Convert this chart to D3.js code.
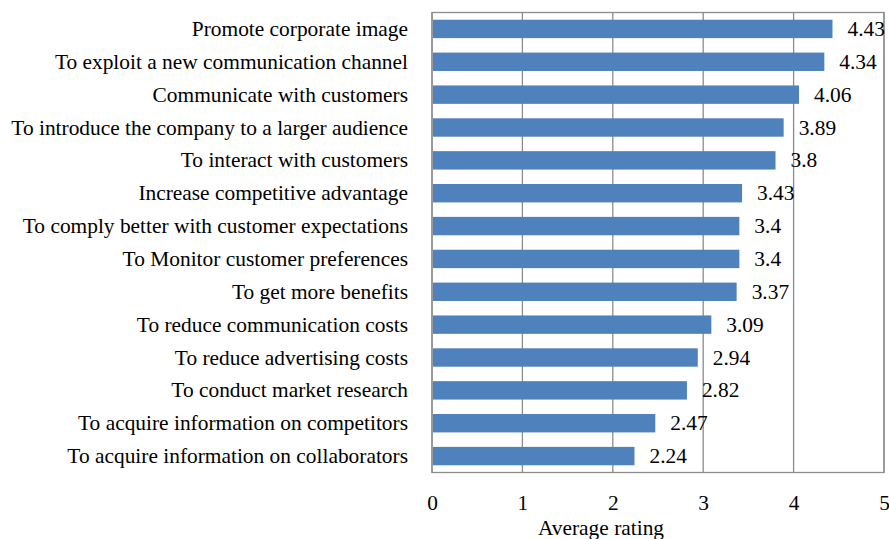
<!DOCTYPE html>
<html>
<head>
<meta charset="utf-8">
<script src="https://cdn.jsdelivr.net/npm/d3@7"></script>
<style>
  body { margin: 0; background: #fff; }
  svg text { font-family: "Liberation Serif", "Times New Roman", serif; fill: #000; }
</style>
</head>
<body>
<div id="chart"></div>
<script>
// categories from top to bottom
const categories = [
  "Promote corporate image",
  "To exploit a new communication channel",
  "Communicate with customers",
  "To introduce the company to a larger audience",
  "To interact with customers",
  "Increase competitive advantage",
  "To comply better with customer expectations",
  "To Monitor customer preferences",
  "To get more benefits",
  "To reduce communication costs",
  "To reduce advertising costs",
  "To conduct market research",
  "To acquire information on competitors",
  "To acquire information on collaborators"
];
const ratings = [4.43, 4.34, 4.06, 3.89, 3.8, 3.43, 3.4, 3.4, 3.37, 3.09, 2.94, 2.82, 2.47, 2.24];
const ratingLabels = ["4.43", "4.34", "4.06", "3.89", "3.8", "3.43", "3.4", "3.4", "3.37", "3.09", "2.94", "2.82", "2.47", "2.24"];
const xTicks = [0, 1, 2, 3, 4, 5];
const xTitle = "Average rating";

const width = 889, height = 539;
const margin = { top: 12.5, right: 5, bottom: 66.5, left: 432 };
const plotW = width - margin.left - margin.right;
const plotH = height - margin.top - margin.bottom;
const fontSize = 21.4;

const svg = d3.select('#chart').append('svg')
  .attr('width', width)
  .attr('height', height);

const g = svg.append('g').attr('transform', `translate(${margin.left},${margin.top})`);

const x = d3.scaleLinear().domain([0, 5]).range([0, plotW]);
const y = d3.scaleBand().domain(categories).range([0, plotH]).paddingInner(0.44).paddingOuter(0.22);

// gridlines
g.append('g')
  .selectAll('line')
  .data(xTicks)
  .join('line')
  .attr('x1', d => x(d)).attr('x2', d => x(d))
  .attr('y1', 0).attr('y2', plotH)
  .attr('stroke', '#8c8c8c')
  .attr('stroke-width', 1.3);

// frame
g.append('rect')
  .attr('x', 0).attr('y', 0)
  .attr('width', plotW).attr('height', plotH)
  .attr('fill', 'none')
  .attr('stroke', '#8c8c8c')
  .attr('stroke-width', 1.3);

// bars
g.append('g')
  .selectAll('rect')
  .data(ratings)
  .join('rect')
  .attr('x', x(0) + 1)
  .attr('y', (d, i) => y(categories[i]))
  .attr('width', d => x(d) - x(0) - 1)
  .attr('height', y.bandwidth())
  .attr('fill', '#4f81bd');

// value labels
g.append('g')
  .selectAll('text')
  .data(ratings)
  .join('text')
  .attr('x', d => x(d) + 15)
  .attr('y', (d, i) => y(categories[i]) + y.bandwidth() / 2)
  .attr('dy', '0.33em')
  .attr('font-size', fontSize)
  .text((d, i) => ratingLabels[i]);

// category labels
const yAxis = g.append('g')
  .call(d3.axisLeft(y).tickSize(0).tickPadding(24));
yAxis.select('.domain').remove();
yAxis.selectAll('text')
  .attr('font-size', fontSize)
  .attr('dy', '0.33em')
  .style('font-family', '"Liberation Serif", "Times New Roman", serif');

// x axis tick labels
const xAxis = g.append('g')
  .attr('transform', `translate(0,${plotH})`)
  .call(d3.axisBottom(x).tickValues(xTicks).tickFormat(d3.format('d')).tickSize(0).tickPadding(22));
xAxis.select('.domain').remove();
xAxis.selectAll('text')
  .attr('font-size', fontSize)
  .style('font-family', '"Liberation Serif", "Times New Roman", serif');

// axis title
svg.append('text')
  .attr('x', 601)
  .attr('y', 528)
  .attr('dy', '0.35em')
  .attr('text-anchor', 'middle')
  .attr('font-size', fontSize)
  .text(xTitle);
</script>
</body>
</html>
